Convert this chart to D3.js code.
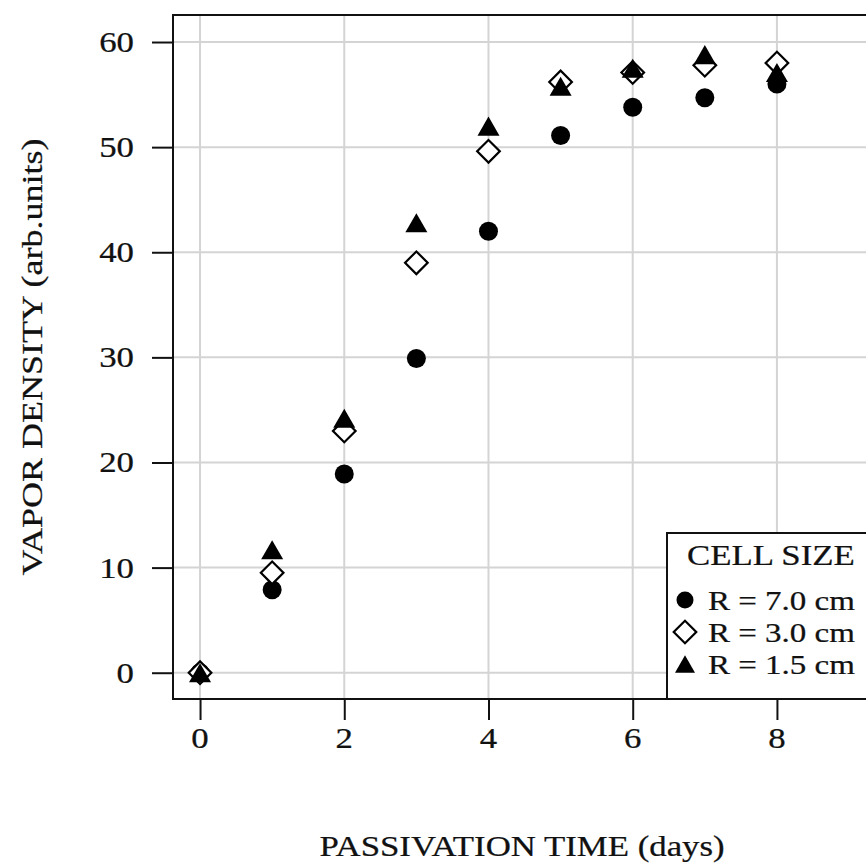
<!DOCTYPE html>
<html>
<head>
<meta charset="utf-8">
<script src="https://cdn.jsdelivr.net/npm/d3@7"></script>
<style>
  html, body { margin: 0; padding: 0; background: #fff; overflow: hidden; }
  svg { display: block; }
</style>
</head>
<body>
<svg id="chart" width="866" height="863"></svg>
<script>
// Passivation time in days
const days = [0, 1, 2, 3, 4, 5, 6, 7, 8];
// Vapor density per cell size (arb. units)
const r70 = [0, 7.9, 18.9, 29.9, 42.0, 51.1, 53.8, 54.7, 56.0];
const r30 = [0, 9.5, 23.0, 39.0, 49.6, 56.2, 57.1, 57.8, 58.0];
const r15 = [0, 11.7, 24.2, 42.8, 52.0, 55.8, 57.5, 58.8, 57.1];
const seriesNames = ["R = 7.0 cm", "R = 3.0 cm", "R = 1.5 cm"];
const xTicks = [0, 2, 4, 6, 8, 10];
const xTickLabels = ["0", "2", "4", "6", "8"];
const yTicks = [0, 10, 20, 30, 40, 50, 60];

const svg = d3.select("#chart");
const FONT = "'Liberation Serif', 'Times New Roman', serif";
const SX = 1.2;        // horizontal stretch of the serif lettering
const FS = 29;

const plot = { left: 173, top: 15, right: 950, bottom: 699 };
const x = d3.scaleLinear().domain([-0.375, 10.4]).range([plot.left, plot.right]);
const y = d3.scaleLinear().domain([-2.5, 62.57]).range([plot.bottom, plot.top]);

svg.append("rect").attr("width", 866).attr("height", 863).attr("fill", "#fff");

// grid
const grid = svg.append("g").attr("stroke", "#d4d4d4").attr("stroke-width", 2);
grid.selectAll("line.gx").data(xTicks).join("line")
  .attr("x1", d => x(d)).attr("x2", d => x(d))
  .attr("y1", plot.top).attr("y2", plot.bottom);
grid.selectAll("line.gy").data(yTicks).join("line")
  .attr("x1", plot.left).attr("x2", plot.right)
  .attr("y1", d => y(d)).attr("y2", d => y(d));

function label(g, tx, ty, text, anchor, size, rotate, sx) {
  return g.append("text")
    .attr("transform", `translate(${tx},${ty})` + (rotate ? ` rotate(${rotate})` : "") + ` scale(${sx || SX},1)`)
    .attr("text-anchor", anchor)
    .attr("font-family", FONT)
    .attr("font-size", size)
    .attr("fill", "#111")
    .attr("stroke", "#111").attr("stroke-width", 0.25)
    .text(text);
}

// axes
const xAxis = d3.axisBottom(x).tickValues(xTicks).tickSize(21).tickFormat("");
const yAxis = d3.axisLeft(y).tickValues(yTicks).tickSize(21).tickFormat("");
const gx = svg.append("g").attr("transform", `translate(0,${plot.bottom})`).call(xAxis);
const gy = svg.append("g").attr("transform", `translate(${plot.left},0)`).call(yAxis);
[gx, gy].forEach(g => {
  g.select(".domain").remove();
  g.selectAll("line").attr("stroke", "#111").attr("stroke-width", 2);
});

const labels = svg.append("g");
xTickLabels.forEach((s, i) => label(labels, x(xTicks[i]), 748, s, "middle", FS));
yTicks.forEach(v => label(labels, 134, y(v) + 10, d3.format("d")(v), "end", FS));

// axis titles
label(labels, 522, 856, "PASSIVATION TIME (days)", "middle", FS);
label(labels, 42, 357, "VAPOR DENSITY (arb.units)", "middle", 30, -90);

// markers
const circle = d3.symbol().type(d3.symbolCircle).size(Math.PI * 9.5 * 9.5);
const diamond = d3.symbol().type(d3.symbolSquare).size(16 * 16);
const triPath = (w) => {
  const h = w * 0.866;
  return `M0,${-h / 2}L${w / 2},${h / 2}L${-w / 2},${h / 2}Z`;
};

const marks = svg.append("g");
function drawSeries(vals, kind) {
  const sel = marks.append("g").selectAll("path").data(days.map((d, i) => [d, vals[i]])).join("path");
  if (kind === "circle") {
    sel.attr("d", circle).attr("fill", "#000")
      .attr("transform", d => `translate(${x(d[0])},${y(d[1])})`);
  } else if (kind === "diamond") {
    sel.attr("d", diamond).attr("fill", "#fff").attr("stroke", "#000").attr("stroke-width", 2.2)
      .attr("transform", d => `translate(${x(d[0])},${y(d[1])}) rotate(45)`);
  } else {
    sel.attr("d", triPath(22)).attr("fill", "#000")
      .attr("transform", d => `translate(${x(d[0])},${y(d[1])})`);
  }
}
drawSeries(r70, "circle");
drawSeries(r30, "diamond");
drawSeries(r15, "triangle");

// frame
svg.append("rect")
  .attr("x", plot.left).attr("y", plot.top)
  .attr("width", plot.right - plot.left).attr("height", plot.bottom - plot.top)
  .attr("fill", "none").attr("stroke", "#111").attr("stroke-width", 2);

// legend
const lg = svg.append("g");
lg.append("rect").attr("x", 667).attr("y", 533).attr("width", 300).attr("height", plot.bottom - 533)
  .attr("fill", "#fff").attr("stroke", "#111").attr("stroke-width", 2);
label(lg, 687, 565, "CELL SIZE", "start", FS);
const kinds = ["circle", "diamond", "triangle"];
const rowY = [600, 632, 664];
kinds.forEach((k, i) => {
  const p = lg.append("path");
  if (k === "circle") p.attr("d", d3.symbol().type(d3.symbolCircle).size(Math.PI * 8.5 * 8.5)).attr("fill", "#000")
    .attr("transform", `translate(685,${rowY[i]})`);
  else if (k === "diamond") p.attr("d", diamond).attr("fill", "#fff").attr("stroke", "#000").attr("stroke-width", 2.2)
    .attr("transform", `translate(685,${rowY[i]}) rotate(45)`);
  else p.attr("d", triPath(20)).attr("fill", "#000").attr("transform", `translate(685,${rowY[i]})`);
  label(lg, 708, rowY[i] + 10, seriesNames[i], "start", 27.5, null, 1.2);
});
</script>
</body>
</html>
